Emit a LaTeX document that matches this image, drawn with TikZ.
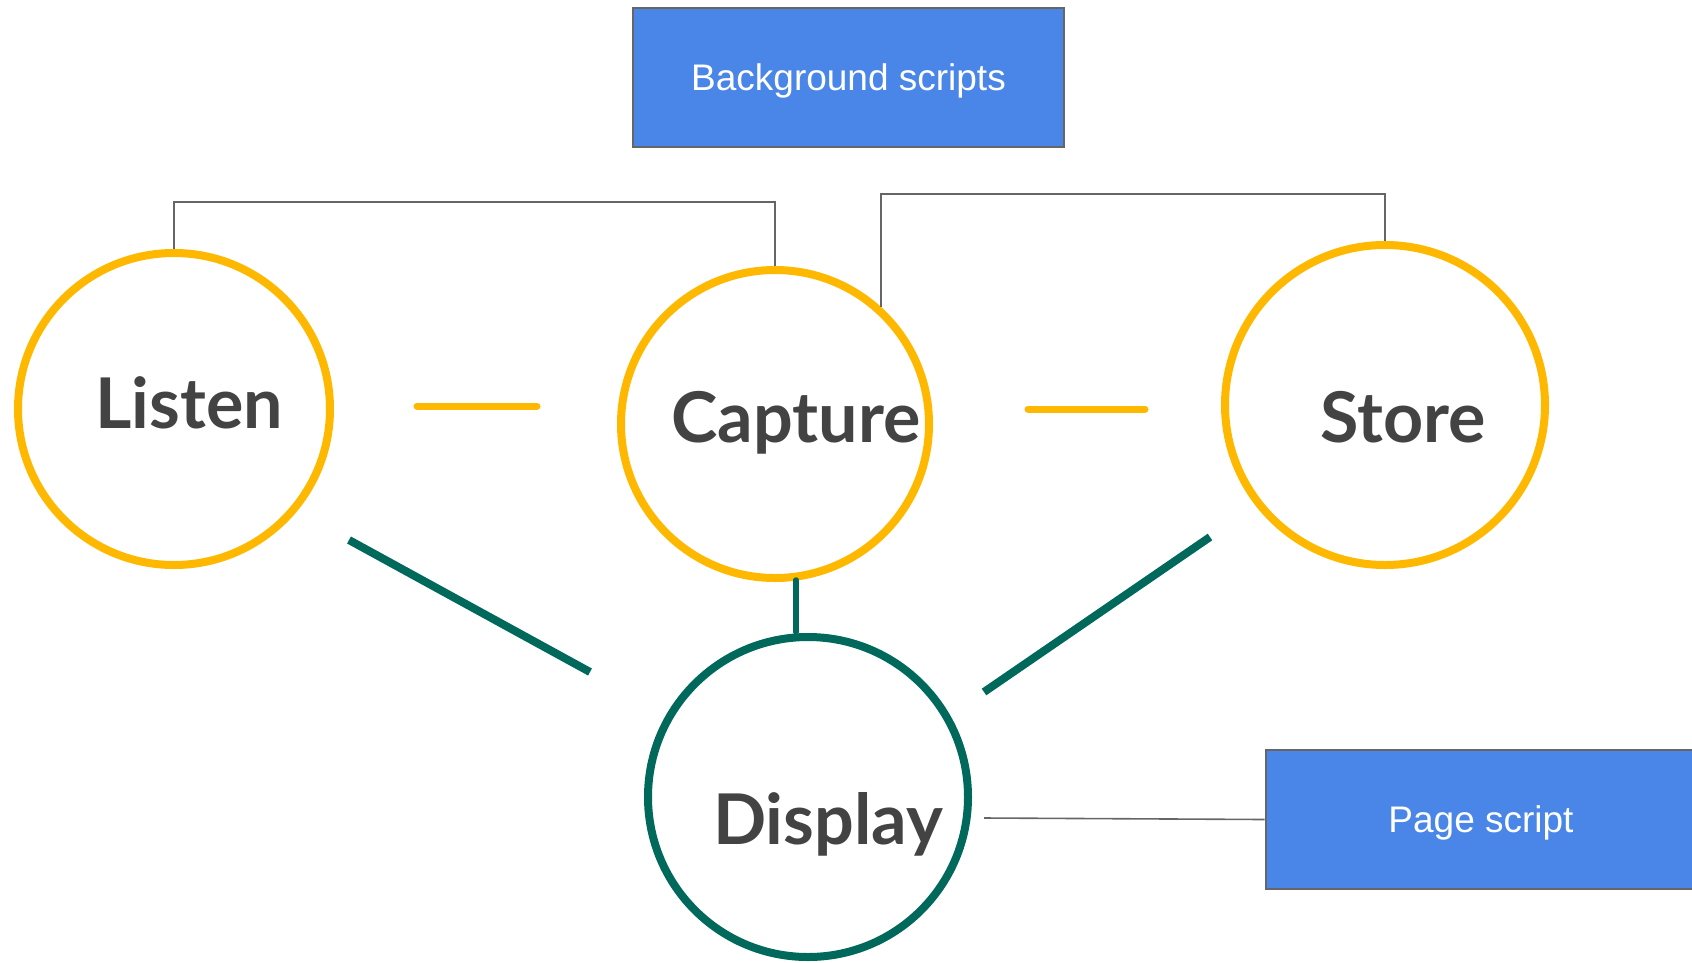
\documentclass[tikz,border=0pt]{standalone}
\usepackage{fontspec}
\setmainfont{Liberation Sans}
\newfontfamily\lblfont{Lato}
\definecolor{ambr}{HTML}{FFB800}
\definecolor{deepteal}{HTML}{00695C}
\definecolor{gblue}{HTML}{4A86E8}
\definecolor{boxgray}{HTML}{666666}
\definecolor{txtgray}{HTML}{434343}
\tikzset{
  stage/.style={circle, draw=ambr, line width=8pt, minimum size=#1, inner sep=0pt},
  lbl/.style={anchor=base, text=txtgray, font=\lblfont\bfseries\fontsize{70}{84}\selectfont, inner sep=0pt},
  scriptbox/.style={rectangle, fill=gblue, draw=boxgray, line width=2pt, minimum width=431pt, minimum height=139pt, text=white, text depth=0pt, font=\fontsize{37}{44}\selectfont},
  link/.style={draw=boxgray, line width=1.6pt},
  ybar/.style={draw=ambr, line width=7pt, line cap=round},
  gbar/.style={draw=deepteal, line width=8pt},
}
\begin{document}
\begin{tikzpicture}[x=1pt,y=-1pt]
\useasboundingbox (0,0) rectangle (1692,962);
\clip (0,0) rectangle (1692,962);
\node[scriptbox] (bg) at (848.5,77.5) {Background scripts};
\node[scriptbox] (page) at (1481,819.5) {Page script};
\node[stage=312pt] (listen) at (174,409) {};
\node[stage=308pt] (capture) at (775,424) {};
\node[stage=320pt] (store) at (1385,405) {};
\node[stage=320pt, draw=deepteal, line width=8pt] (display) at (808,797) {};
\node[lbl] (listenT) at (189,428) {Listen};
\node[lbl] (captureT) at (796,442) {Capture};
\node[lbl] (storeT) at (1403,442) {Store};
\node[lbl] (displayT) at (828,844) {Display};
\coordinate (topA) at (0,202);
\coordinate (topB) at (0,194);
\draw[link] (listen.north) -- (listen.north |- topA) -| (capture.north);
\draw[link] (capture.48) -- (capture.48 |- topB) -| (store.north);
\coordinate (y1a) at (417,406);
\coordinate (y1b) at (537,406);
\coordinate (y2a) at (1028,409);
\coordinate (y2b) at (1145,409);
\draw[ybar] (y1a) -- (y1b);
\draw[ybar] (y2a) -- (y2b);
\coordinate (g1a) at (349,540);
\coordinate (g1b) at (590,672);
\coordinate (g2a) at (796,580);
\coordinate (g2b) at (796,632);
\coordinate (g3a) at (1210,537);
\coordinate (g3b) at (984,692);
\draw[gbar] (g1a) -- (g1b);
\draw[gbar, line width=5.5pt, line cap=round] (g2a) -- (g2b);
\draw[gbar] (g3a) -- (g3b);
\coordinate (d1) at (984,818);
\draw[link] (d1) -- (page.west);
\end{tikzpicture}
\end{document}
